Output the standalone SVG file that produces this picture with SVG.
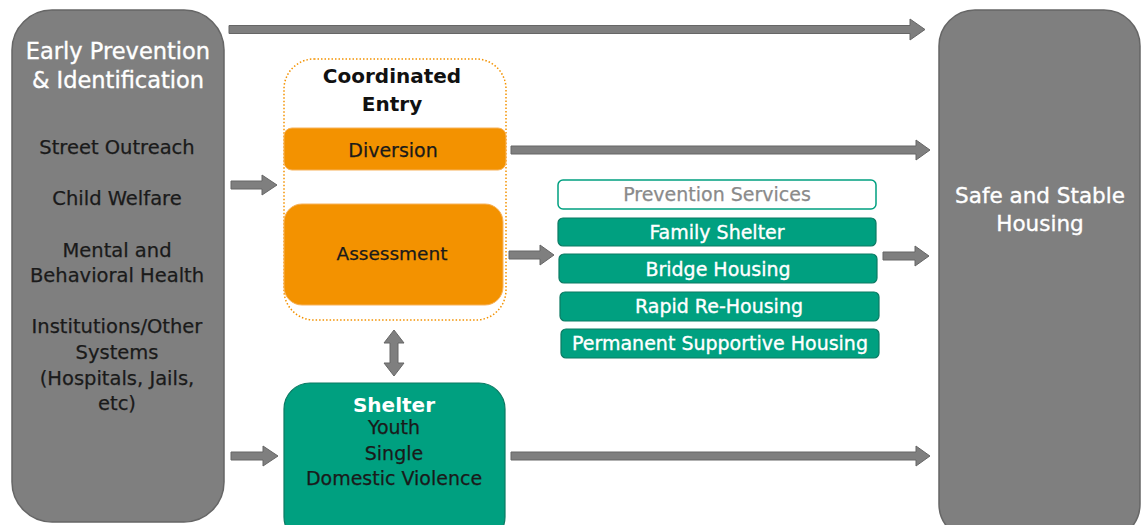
<svg xmlns="http://www.w3.org/2000/svg" width="1142" height="525" viewBox="0 0 1142 525">
<style>
text{font-family:"DejaVu Sans","Liberation Sans",sans-serif;text-anchor:middle}
.big{fill:#7f7f7f;stroke:#666;stroke-width:1.5}
.arr{fill:#7f7f7f;stroke:#666;stroke-width:1}
.or{fill:#F39200;stroke:#F7B25A;stroke-width:1}
.tl{fill:#00A080;stroke:#0B7A63;stroke-width:1.2}
.w{fill:#fff;stroke:#fff;stroke-width:0.35}
.k{fill:#1a1a1a;stroke:#1a1a1a;stroke-width:0.25}
.s19{font-size:19px}
.s195{font-size:19.5px}
.s22{font-size:22.5px}
.s20{font-size:20px}
</style>
<rect width="1142" height="525" fill="#fff"/>
<g id="early-prevention">
<rect class="big" x="12" y="10" width="212" height="512" rx="40"/>
<text class="w s22" x="118" y="59">Early Prevention</text>
<text class="w s22" x="118" y="88">&amp; Identification</text>
<text class="k s195" x="117" y="154">Street Outreach</text>
<text class="k s195" x="117" y="205">Child Welfare</text>
<text class="k s195" x="117" y="257">Mental and</text>
<text class="k s195" x="117" y="282">Behavioral Health</text>
<text class="k s195" x="117" y="333">Institutions/Other</text>
<text class="k s195" x="117" y="359">Systems</text>
<text class="k s195" x="117" y="385">(Hospitals, Jails,</text>
<text class="k s195" x="117" y="410">etc)</text>
</g>
<g id="safe-housing">
<rect class="big" x="939" y="10" width="201" height="530" rx="36"/>
<text class="w" x="1040" y="203" font-size="21.5">Safe and Stable</text>
<text class="w" x="1040" y="231" font-size="21.5">Housing</text>
</g>
<g id="coordinated-entry">
<rect x="284" y="59" width="222" height="261" rx="30" fill="#fff" stroke="#F39200" stroke-width="1.5" stroke-dasharray="1.5 2"/>
<text class="s20" x="392" y="83" font-weight="bold" fill="#111">Coordinated</text>
<text class="s20" x="392" y="111" font-weight="bold" fill="#111">Entry</text>
</g>
<g id="diversion">
<rect class="or" x="284" y="128" width="222" height="42" rx="8"/>
<text class="k s19" x="393" y="157">Diversion</text>
</g>
<g id="assessment">
<rect class="or" x="284" y="204" width="219" height="101" rx="18"/>
<text class="k" x="392" y="260" font-size="18.5">Assessment</text>
</g>
<g id="prevention-services">
<rect x="558" y="180" width="318" height="29" rx="5" fill="#fff" stroke="#00A080" stroke-width="1.5"/>
<text class="s19" x="717" y="201" fill="#8a8a8a" stroke="#8a8a8a" stroke-width="0.25">Prevention Services</text>
</g>
<g id="family-shelter">
<rect class="tl" x="558" y="218" width="318" height="28" rx="5"/>
<text class="w s19" x="717" y="239">Family Shelter</text>
</g>
<g id="bridge-housing">
<rect class="tl" x="559" y="254" width="318" height="29" rx="5"/>
<text class="w s19" x="718" y="276">Bridge Housing</text>
</g>
<g id="rapid-rehousing">
<rect class="tl" x="560" y="292" width="319" height="29" rx="5"/>
<text class="w s19" x="719" y="313">Rapid Re-Housing</text>
</g>
<g id="psh">
<rect class="tl" x="561" y="329" width="318" height="29" rx="5"/>
<text class="w s19" x="720" y="350">Permanent Supportive Housing</text>
</g>
<g id="shelter">
<rect class="tl" x="284" y="383" width="221" height="160" rx="26"/>
<text class="s20" x="394" y="412" font-weight="bold" fill="#fff">Shelter</text>
<text class="k s19" x="394" y="434">Youth</text>
<text class="k s19" x="394" y="460">Single</text>
<text class="k s19" x="394" y="485">Domestic Violence</text>
</g>
<g id="connectors">
<path class="arr" d="M229 25.5H910V19L925 29.5L910 40V33.5H229Z"/>
<path class="arr" d="M231 181H262V175L277 185L262 195V189H231Z"/>
<path class="arr" d="M231 452H263V446L278 456L263 466V460H231Z"/>
<path class="arr" d="M511 146H916V140L930 150L916 160V154H511Z"/>
<path class="arr" d="M509 251H540V245L554 255L540 265V259H509Z"/>
<path class="arr" d="M883 252H915V246L929 256L915 266V260H883Z"/>
<path class="arr" d="M511 452H916V446L930 456L916 466V460H511Z"/>
<path class="arr" d="M390 343V363H384L394 376L404 363H398V343H404L394 330L384 343Z"/>
</g>
</svg>
